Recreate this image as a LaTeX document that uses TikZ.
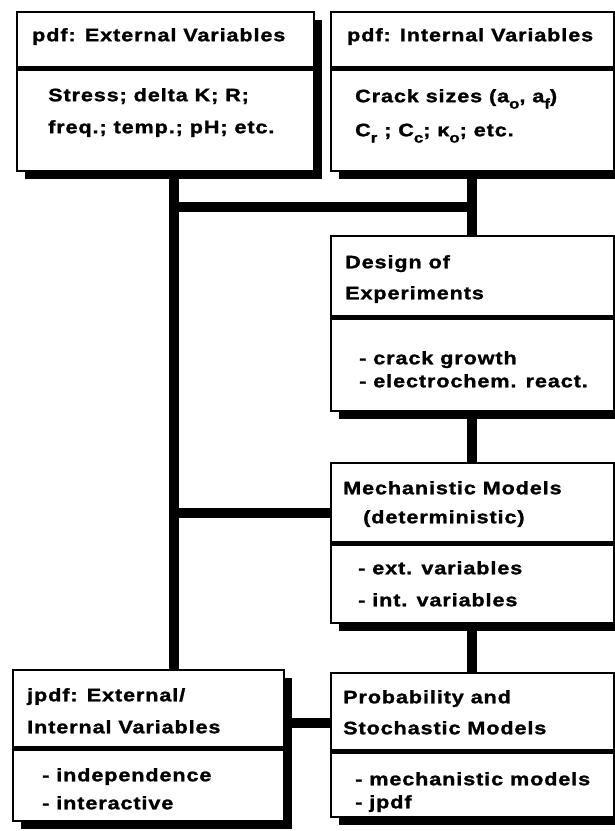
\documentclass[tikz,border=0pt]{standalone}
\usepackage{fontspec}
\setmainfont{Liberation Sans}[FakeStretch=1.2, LetterSpace=5, BoldFeatures={FakeBold=1.4}]
\usetikzlibrary{shadows, backgrounds}
\newcommand{\lowsub}[1]{\raisebox{-0.35em}{\fontsize{14}{14}\selectfont #1}}
\tikzset{
  box/.style={draw=black, line width=1.5pt, fill=white, anchor=north west, inner sep=0pt,
    drop shadow={shadow xshift=8pt, shadow yshift=-8pt, opacity=1, fill=black}},
  rule/.style={line width=5pt},
  link/.style={line width=10pt},
  txt/.style={anchor=north west, inner sep=0pt, align=left, font=\bfseries\fontsize{18}{#1}\selectfont},
  txt/.default=22
}

\begin{document}
\begin{tikzpicture}[x=1pt, y=-1pt]
\useasboundingbox (0,0) rectangle (614,831);
\node[box, minimum width=297, minimum height=159] (ext) at (16,11) {};
\node[box, minimum width=283, minimum height=159] (int) at (330,11) {};
\node[box, minimum width=283, minimum height=175] (doe) at (330,235) {};
\node[box, minimum width=283, minimum height=160] (mm) at (330,462) {};
\node[box, minimum width=271, minimum height=151] (jpdf) at (12,669) {};
\node[box, minimum width=283, minimum height=144] (prob) at (330,672) {};
\draw[rule] ([yshift=-57pt]ext.north west) -- ([yshift=-57pt]ext.north east);
\draw[rule] ([yshift=-57pt]int.north west) -- ([yshift=-57pt]int.north east);
\draw[rule] ([yshift=-82pt]doe.north west) -- ([yshift=-82pt]doe.north east);
\draw[rule] ([yshift=-81pt]mm.north west) -- ([yshift=-81pt]mm.north east);
\draw[rule] ([yshift=-79pt]jpdf.north west) -- ([yshift=-79pt]jpdf.north east);
\draw[rule] ([yshift=-79pt]prob.north west) -- ([yshift=-79pt]prob.north east);
\node[txt] (ext-h) at (32,28) {pdf: External Variables};
\node[txt=32] (ext-b) at (48,88) {Stress; delta K; R;\\freq.; temp.; pH; etc.};
\node[txt] (int-h) at (347,28) {pdf: Internal Variables};
\node[txt=34] (int-b) at (355,89) {Crack sizes (a\lowsub{o}, a\lowsub{f})\\C\lowsub{r} ; C\lowsub{c}; κ\lowsub{o}; etc.};
\node[txt=31] (doe-h) at (345,255) {Design of\\Experiments};
\node[txt=23] (doe-b) at (359,351) {- crack growth\\- electrochem. react.};
\node[txt=29] (mm-h) at (343,481) {Mechanistic Models\\\hspace*{20pt}(deterministic)};
\node[txt=32] (mm-b) at (358,561) {- ext. variables\\- int. variables};
\node[txt=32] (jpdf-h) at (27,688) {jpdf: External/\\Internal Variables};
\node[txt=28] (jpdf-b) at (42,768) {- independence\\- interactive};
\node[txt=31] (prob-h) at (343,690) {Probability and\\Stochastic Models};
\node[txt=23] (prob-b) at (355,772) {- mechanistic models\\- jpdf};
\coordinate (trunk) at ([xshift=9pt]ext.south);
\coordinate (jA) at ([yshift=28pt]doe.north);
\coordinate (jB) at ([yshift=30pt]mm.west);
\coordinate (jC) at ([yshift=22pt]jpdf.east);
\begin{scope}[on background layer]
\fill[white] (0,0) rectangle (614,831);
\draw[link] (trunk) -- (trunk |- jpdf.north);
\draw[link] (trunk |- jA) -- (jA);
\draw[link] (int.south) -- (doe.north);
\draw[link] (doe.south) -- (mm.north);
\draw[link] (trunk |- jB) -- (jB);
\draw[link] (mm.south) -- (prob.north);
\draw[link] (jC) -- (jC -| prob.west);
\end{scope}
\end{tikzpicture}
\end{document}
